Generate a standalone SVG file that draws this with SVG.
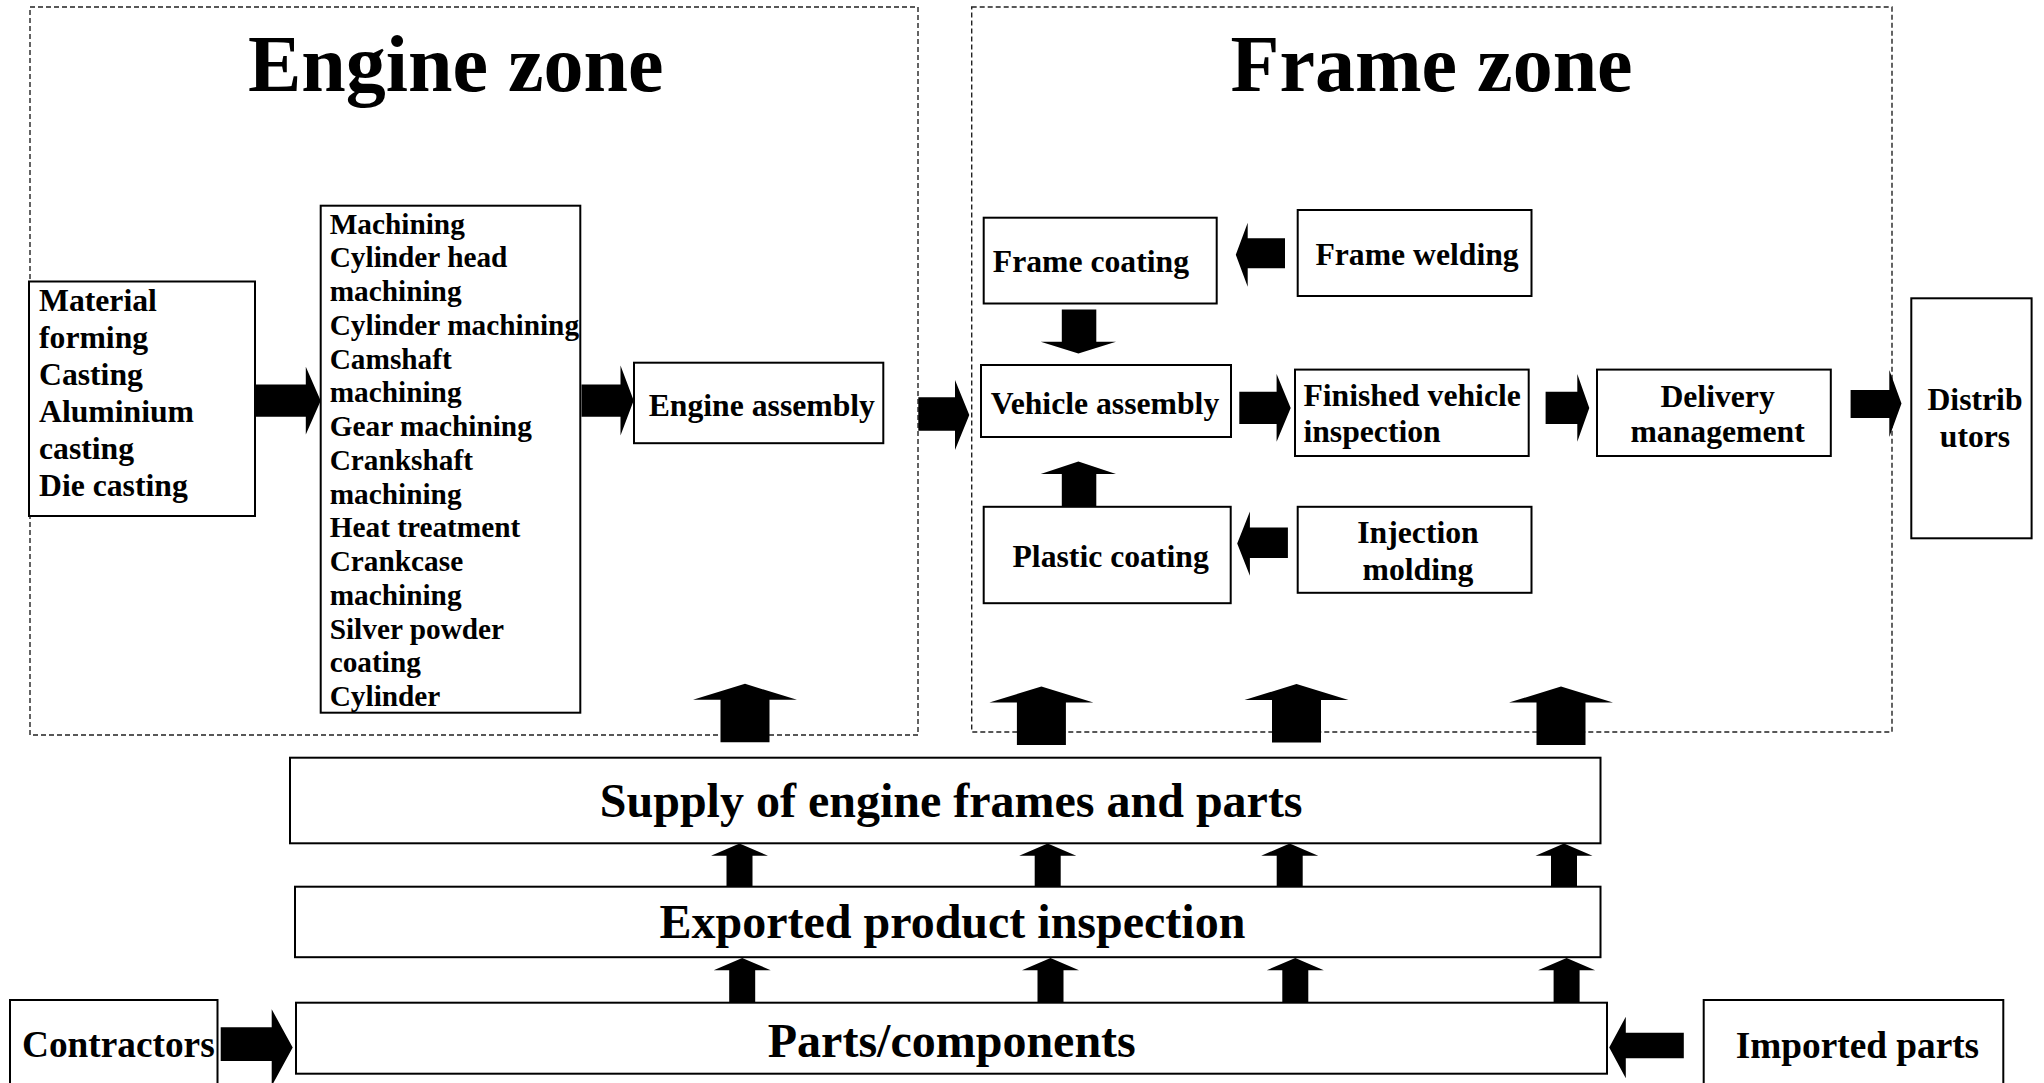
<svg xmlns="http://www.w3.org/2000/svg" xmlns:xlink="http://www.w3.org/1999/xlink" width="2044" height="1083" viewBox="0 0 2044 1083">
  <style>
    .zone { fill: none; stroke: #222; stroke-width: 1.4; stroke-dasharray: 5 3; }
    .box { fill: #fff; stroke: #000; stroke-width: 2; }
    .arw { fill: #000; }
    text { font-family: "Liberation Serif", "Times New Roman", serif; font-weight: bold; fill: #000; }
    .title { font-size: 80px; }
    .lbl { font-size: 31.7px; }
    .lst { font-size: 29.3px; }
    .big { font-size: 48px; }
    .side { font-size: 37.3px; }
    .mid { text-anchor: middle; }
  </style>
  <defs>
    <!-- block arrows pointing up, tip at the origin -->
    <path id="upBig" d="M-24.5,58.5 V16 H-52 L0,0 L52,16 H24.5 V58.5 Z"/>
    <path id="upSmall" d="M-13,44.5 V12.2 H-28.5 L0,0 L28.5,12.2 H13 V44.5 Z"/>
  </defs>

  <!-- zones -->
  <g id="engine-zone">
    <rect class="zone" x="30" y="7" width="888" height="728"/>
    <text class="title" x="248" y="91">Engine zone</text>
  </g>
  <g id="frame-zone">
    <rect class="zone" x="971.7" y="7" width="920.3" height="725"/>
    <text class="title" x="1230.6" y="91">Frame zone</text>
  </g>

  <!-- connectors -->
  <g id="connectors" class="arw">
    <!-- engine line -->
    <polygon points="254.8,384.6 305.8,384.6 305.8,366.8 320.7,400.7 305.8,434.6 305.8,416.8 254.8,416.8"/>
    <polygon points="581.5,384.6 620.5,384.6 620.5,365.5 633.7,400.5 620.5,435.5 620.5,416.8 581.5,416.8"/>
    <polygon points="918.3,397.3 955,397.3 955,380 969.3,415 955,450 955,430.7 918.3,430.7"/>
    <!-- frame line -->
    <polygon points="1285,238.3 1247.7,238.3 1247.7,222.7 1235.8,254.7 1247.7,286.7 1247.7,268.3 1285,268.3"/>
    <polygon points="1061.8,309.6 1096.3,309.6 1096.3,341.8 1116,341.8 1078.4,353.6 1040.7,341.8 1061.8,341.8"/>
    <polygon points="1061.8,506.8 1061.8,474 1040.7,474 1078.4,461.4 1116,474 1096.3,474 1096.3,506.8"/>
    <polygon points="1287.9,527.5 1249.9,527.5 1249.9,511.4 1237.2,543.5 1249.9,575.7 1249.9,557.9 1287.9,557.9"/>
    <polygon points="1239.3,391.8 1276.6,391.8 1276.6,374 1290.7,408 1276.6,441.8 1276.6,424 1239.3,424"/>
    <polygon points="1545.6,391.8 1577.3,391.8 1577.3,374 1589.3,408 1577.3,441.8 1577.3,424 1545.6,424"/>
    <polygon points="1850.6,390 1889.3,390 1889.3,370 1901.5,403.5 1889.3,437 1889.3,418 1850.6,418"/>
    <!-- supply into the zones -->
    <use xlink:href="#upBig" x="745" y="683.8"/>
    <use xlink:href="#upBig" x="1041.4" y="686.5"/>
    <use xlink:href="#upBig" x="1296.5" y="684"/>
    <use xlink:href="#upBig" x="1561" y="686.5"/>
    <!-- inspection to supply -->
    <use xlink:href="#upSmall" x="739.5" y="843.5"/>
    <use xlink:href="#upSmall" x="1047.7" y="843.5"/>
    <use xlink:href="#upSmall" x="1289.7" y="843.5"/>
    <use xlink:href="#upSmall" x="1564" y="843.5"/>
    <!-- parts to inspection -->
    <use xlink:href="#upSmall" x="742.2" y="958"/>
    <use xlink:href="#upSmall" x="1050.5" y="958"/>
    <use xlink:href="#upSmall" x="1295.3" y="958"/>
    <use xlink:href="#upSmall" x="1566.6" y="958"/>
    <!-- outside suppliers -->
    <polygon points="220.7,1027.3 271.7,1027.3 271.7,1009.3 292.7,1047.5 271.7,1086 271.7,1061 220.7,1061"/>
    <polygon points="1683.8,1032.7 1625.8,1032.7 1625.8,1016.7 1609.2,1047.5 1625.8,1078.3 1625.8,1058.3 1683.8,1058.3"/>
  </g>

  <!-- engine zone nodes -->
  <g id="material-forming">
    <rect class="box" x="29" y="281.5" width="226" height="234.5"/>
    <text class="lbl" x="39" y="311.4">Material</text>
    <text class="lbl" x="39" y="348.4">forming</text>
    <text class="lbl" x="39" y="385.4">Casting</text>
    <text class="lbl" x="39" y="422.4">Aluminium</text>
    <text class="lbl" x="39" y="459.4">casting</text>
    <text class="lbl" x="39" y="496.4">Die casting</text>
  </g>
  <g id="machining">
    <rect class="box" x="320.7" y="205.7" width="259.6" height="507"/>
    <text class="lst" x="329.7" y="233.6">Machining</text>
    <text class="lst" x="329.7" y="267.3">Cylinder head</text>
    <text class="lst" x="329.7" y="301.1">machining</text>
    <text class="lst" x="329.7" y="334.8">Cylinder machining</text>
    <text class="lst" x="329.7" y="368.6">Camshaft</text>
    <text class="lst" x="329.7" y="402.3">machining</text>
    <text class="lst" x="329.7" y="436.0">Gear machining</text>
    <text class="lst" x="329.7" y="469.8">Crankshaft</text>
    <text class="lst" x="329.7" y="503.5">machining</text>
    <text class="lst" x="329.7" y="537.3">Heat treatment</text>
    <text class="lst" x="329.7" y="571.0">Crankcase</text>
    <text class="lst" x="329.7" y="604.7">machining</text>
    <text class="lst" x="329.7" y="638.5">Silver powder</text>
    <text class="lst" x="329.7" y="672.2">coating</text>
    <text class="lst" x="329.7" y="706.0">Cylinder</text>
  </g>
  <g id="engine-assembly">
    <rect class="box" x="634" y="362.7" width="249.3" height="80.5"/>
    <text class="lbl" x="648.7" y="415.7">Engine assembly</text>
  </g>

  <!-- frame zone nodes -->
  <g id="frame-coating">
    <rect class="box" x="983.7" y="217.7" width="233" height="85.8"/>
    <text class="lbl" x="992.8" y="272">Frame coating</text>
  </g>
  <g id="frame-welding">
    <rect class="box" x="1297.7" y="210" width="233.8" height="86"/>
    <text class="lbl" x="1315.4" y="265">Frame welding</text>
  </g>
  <g id="vehicle-assembly">
    <rect class="box" x="981" y="365" width="250" height="72"/>
    <text class="lbl" x="990.7" y="414">Vehicle assembly</text>
  </g>
  <g id="finished-vehicle-inspection">
    <rect class="box" x="1295" y="369.6" width="233.7" height="86.4"/>
    <text class="lbl" x="1303.4" y="405.5">Finished vehicle</text>
    <text class="lbl" x="1303.4" y="442">inspection</text>
  </g>
  <g id="delivery-management">
    <rect class="box" x="1597" y="369.6" width="233.8" height="86.4"/>
    <text class="lbl mid" x="1717.6" y="406.5">Delivery</text>
    <text class="lbl mid" x="1717.6" y="442">management</text>
  </g>
  <g id="plastic-coating">
    <rect class="box" x="983.7" y="506.8" width="247" height="96.4"/>
    <text class="lbl" x="1012.5" y="566.5">Plastic coating</text>
  </g>
  <g id="injection-molding">
    <rect class="box" x="1297.7" y="506.8" width="233.8" height="86"/>
    <text class="lbl mid" x="1418" y="543">Injection</text>
    <text class="lbl mid" x="1418" y="580">molding</text>
  </g>
  <g id="distributors">
    <rect class="box" x="1911.3" y="298.3" width="120.3" height="240"/>
    <text class="lbl mid" x="1975" y="410">Distrib</text>
    <text class="lbl mid" x="1975" y="447">utors</text>
  </g>

  <!-- supply chain nodes -->
  <g id="supply">
    <rect class="box" x="290" y="757.7" width="1310.5" height="85.6"/>
    <text class="big" x="599.8" y="817">Supply of engine frames and parts</text>
  </g>
  <g id="exported-inspection">
    <rect class="box" x="295" y="886.7" width="1305.5" height="70.5"/>
    <text class="big" x="659.5" y="938">Exported product inspection</text>
  </g>
  <g id="parts-components">
    <rect class="box" x="296" y="1002.7" width="1311" height="71"/>
    <text class="big" x="767.8" y="1056.7">Parts/components</text>
  </g>
  <g id="contractors">
    <rect class="box" x="10" y="1000" width="207.5" height="100"/>
    <text class="side" x="22" y="1056.7">Contractors</text>
  </g>
  <g id="imported-parts">
    <rect class="box" x="1703.7" y="1000" width="299.6" height="100"/>
    <text class="side" x="1735.7" y="1058">Imported parts</text>
  </g>
</svg>
